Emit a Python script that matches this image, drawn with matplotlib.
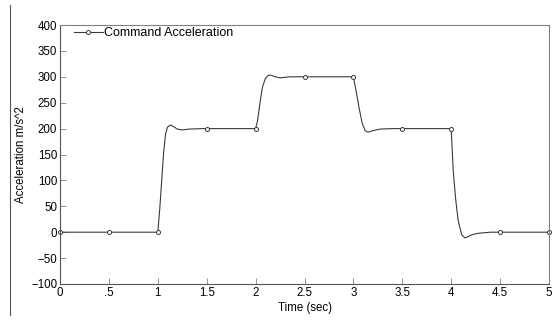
import matplotlib
matplotlib.use("Agg")
import matplotlib.pyplot as plt
from matplotlib.lines import Line2D

plt.rcParams['font.family'] = ['Liberation Sans', 'DejaVu Sans']

t_curve = [0.0, 1.0, 1.02, 1.04, 1.06, 1.08, 1.10, 1.13, 1.16, 1.20, 1.25, 1.32, 1.45,
           2.0, 2.02, 2.045, 2.07, 2.10, 2.13, 2.16, 2.20, 2.25, 2.35,
           3.0, 3.03, 3.06, 3.09, 3.12, 3.15, 3.20, 3.27, 3.40,
           4.0, 4.02, 4.045, 4.07, 4.107, 4.14, 4.17, 4.21, 4.28, 4.40, 5.0]
a_curve = [0, 0, 45, 100, 155, 190, 203, 207, 204, 199, 197.5, 199, 200,
           200, 215, 250, 280, 297, 303, 303, 300, 298, 300,
           300, 270, 238, 210, 196, 193, 196, 199, 200,
           200, 120, 65, 24, -5, -11, -9, -5, -2, 0, 0]

# Marker samples
t_mark = [0, 0.5, 1, 1.5, 2, 2.5, 3, 3.5, 4, 4.5, 5]
a_mark = [0, 0, 0, 200, 200, 300, 300, 200, 200, 0, 0]

x_ticks = [0, 0.5, 1, 1.5, 2, 2.5, 3, 3.5, 4, 4.5, 5]
x_labels = ["0", ".5", "1", "1.5", "2", "2.5", "3", "3.5", "4", "4.5", "5"]
y_ticks = [-100, -50, 0, 50, 100, 150, 200, 250, 300, 350, 400]

fig = plt.figure(figsize=(5.58, 3.2), dpi=100)
ax = fig.add_axes([60/558, 1 - 284/320, (549-60)/558, (284-25)/320])

col = '#3a3a3a'
ax.plot(t_curve, a_curve, color=col, lw=0.8)
ax.plot(t_mark, a_mark, linestyle='none', marker='o', markersize=2.9,
        markerfacecolor='white', markeredgecolor=col, markeredgewidth=0.7, clip_on=False)

ax.set_xlim(0, 5)
ax.set_ylim(-100, 400)
ax.set_xticks(x_ticks)
ax.set_xticklabels(x_labels)
ax.set_yticks(y_ticks)
ax.tick_params(direction='in', length=4.5, width=0.6, color='#808080',
               labelsize=8.3, pad=2, top=False, right=False)
for s in ax.spines.values():
    s.set_color('#808080')
    s.set_linewidth(0.8)
ax.spines['left'].set_color('#555555')
ax.spines['bottom'].set_color('#555555')

ax.set_xlabel("Time (sec)", fontsize=8.3, labelpad=2)
ax.set_ylabel("Acceleration m/s^2", fontsize=8.3, labelpad=3)

handle = Line2D([], [], color=col, lw=0.8, marker='o', markersize=2.9,
                markerfacecolor='white', markeredgecolor=col, markeredgewidth=0.7)
ax.legend([handle], ["Command Acceleration"], loc='upper left', frameon=False,
          fontsize=9, handlelength=2.3, handletextpad=0.1,
          bbox_to_anchor=(12/489, 1.0), borderaxespad=0.0,
          borderpad=0.15, markerscale=1.0)

# figure left border line
fig.add_artist(Line2D([10/558, 10/558], [1 - 315/320, 1 - 5/320], color='#555555', lw=0.8))

fig.savefig("out.png", dpi=100)
